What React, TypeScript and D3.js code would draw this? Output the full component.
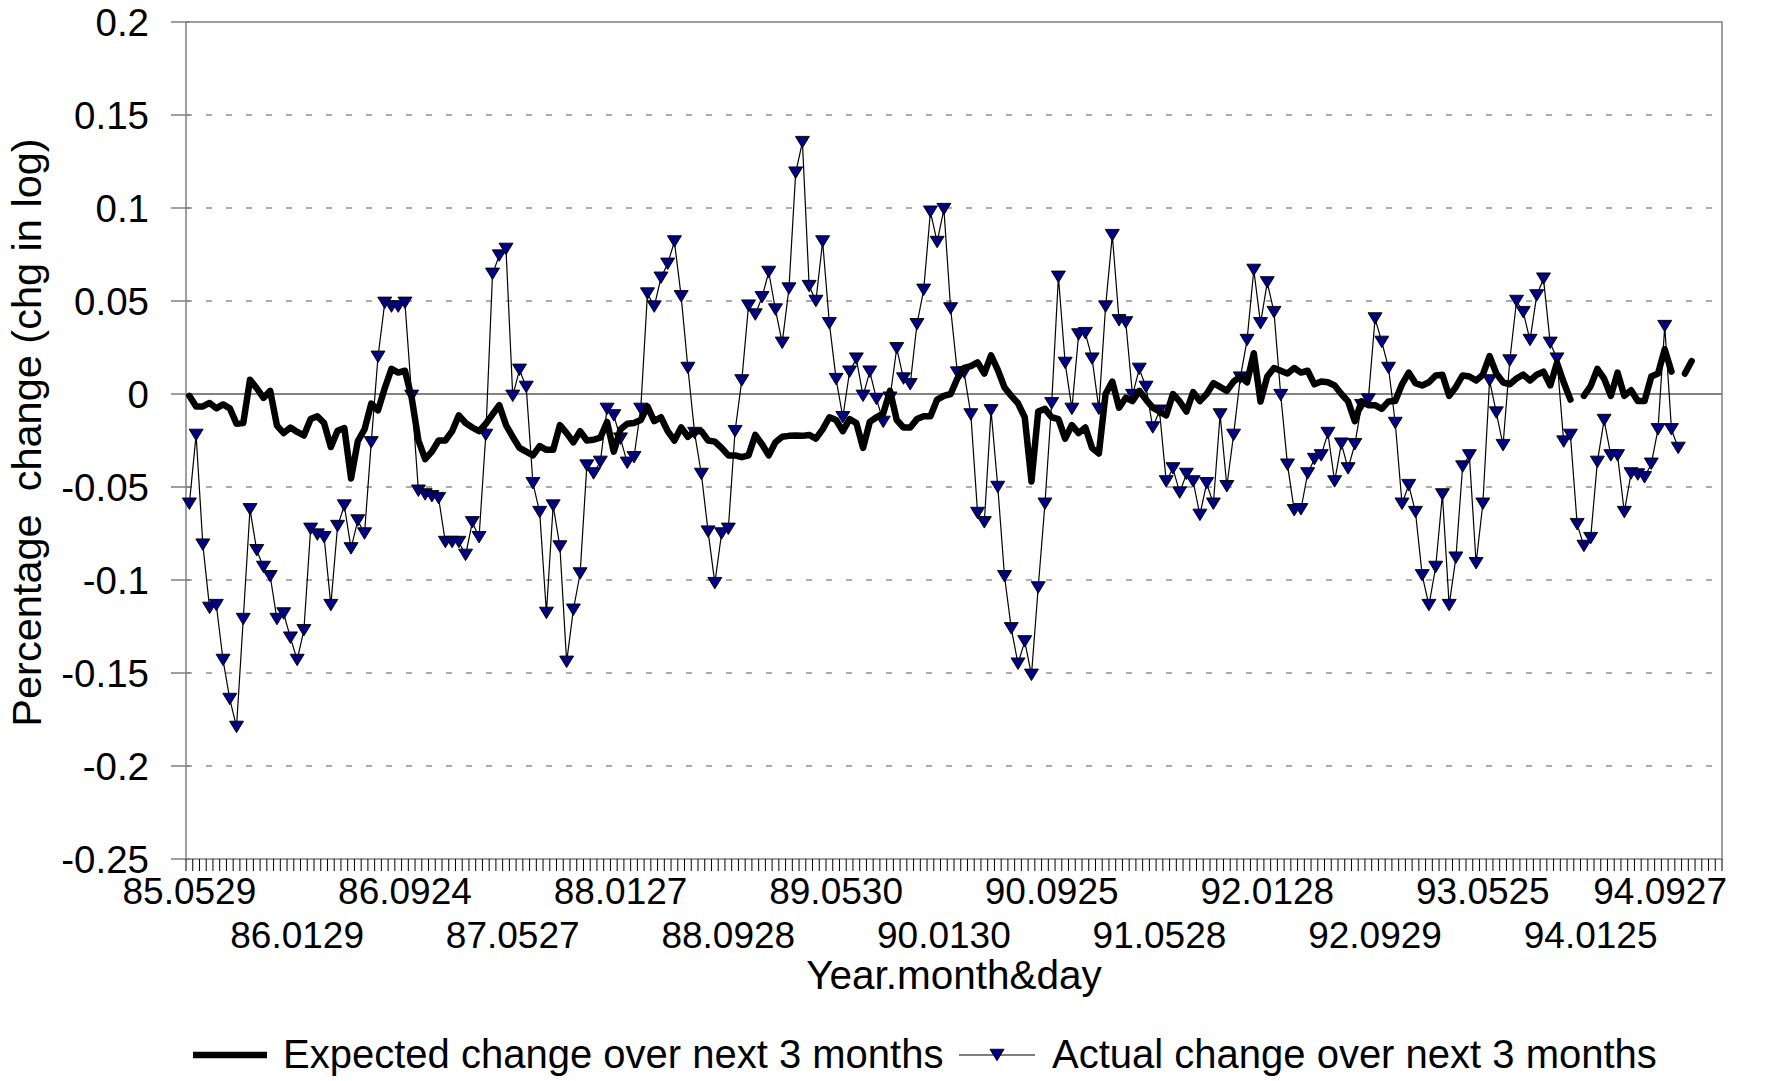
import React from 'react';
import * as d3 from 'd3';

const tickLabels = [
  '85.0529', '86.0129', '86.0924', '87.0527', '88.0127', '88.0928', '89.0530', '90.0130',
  '90.0925', '91.0528', '92.0128', '92.0929', '93.0525', '94.0125', '94.0927',
];
const LABEL_EVERY = 16;
const N_CATEGORIES = 228;

const yTicks = [0.2, 0.15, 0.1, 0.05, 0, -0.05, -0.1, -0.15, -0.2, -0.25];

const expected: (number | null)[] = [
  -0.001, -0.0067, -0.0067, -0.0048, -0.0077, -0.0056, -0.0077, -0.016, -0.0156, 0.0077,
  0.0031, -0.0021, 0.0017, -0.017, -0.021, -0.018, -0.0204, -0.0223, -0.0135, -0.012,
  -0.0156, -0.0285, -0.0198, -0.0183, -0.0454, -0.0254, -0.019, -0.0052, -0.0088, 0.0031,
  0.0135, 0.0115, 0.0125, -0.002, -0.025, -0.035, -0.031, -0.025, -0.025, -0.02,
  -0.0115, -0.0156, -0.018, -0.02, -0.016, -0.011, -0.006, -0.0167, -0.023, -0.029,
  -0.031, -0.033, -0.028, -0.03, -0.03, -0.0167, -0.021, -0.026, -0.02, -0.025,
  -0.0246, -0.0235, -0.015, -0.031, -0.019, -0.016, -0.0156, -0.014, -0.0067, -0.0146,
  -0.0125, -0.02, -0.025, -0.018, -0.023, -0.02, -0.02, -0.025, -0.0256, -0.029,
  -0.033, -0.033, -0.034, -0.033, -0.022, -0.027, -0.033, -0.026, -0.023, -0.0225,
  -0.0223, -0.0225, -0.022, -0.024, -0.019, -0.0125, -0.014, -0.02, -0.0135, -0.0156,
  -0.029, -0.015, -0.0125, -0.0104, 0.0017, -0.014, -0.018, -0.018, -0.0135, -0.012,
  -0.012, -0.003, -0.001, 0.0, 0.0083, 0.014, 0.015, 0.017, 0.011, 0.0208,
  0.013, 0.0035, -0.001, -0.005, -0.0125, -0.047, -0.0094, -0.008, -0.0125, -0.0135,
  -0.024, -0.0167, -0.021, -0.018, -0.029, -0.032, 0.0, 0.0067, -0.0073, -0.002,
  -0.0038, 0.0017, -0.003, -0.0073, -0.0094, -0.0115, 0.0, -0.004, -0.0094, 0.001,
  -0.0038, 0.0, 0.0058, 0.0038, 0.0017, 0.0067, 0.0094, 0.0063, 0.0219, -0.004,
  0.0094, 0.014, 0.0125, 0.011, 0.014, 0.0115, 0.0125, 0.0052, 0.0067, 0.0063,
  0.0046, 0.0, -0.004, -0.0146, -0.004, -0.006, -0.006, -0.008, -0.004, -0.0038,
  0.0052, 0.0115, 0.0058, 0.0046, 0.0063, 0.01, 0.0104, -0.001, 0.0038, 0.01,
  0.0094, 0.0073, 0.0104, 0.0204, 0.011, 0.0063, 0.0052, 0.0083, 0.0104, 0.0073,
  0.0104, 0.012, 0.0046, 0.0167, 0.0063, -0.003, null, -0.001, 0.0042, 0.0135,
  0.0083, -0.001, 0.0115, -0.001, 0.002, -0.0038, -0.0038, 0.0094, 0.011, 0.024,
  0.012, null, 0.011, 0.0177,
];

const actual: number[] = [
  -0.059, -0.022, -0.081, -0.115, -0.1135, -0.143, -0.164, -0.179, -0.121, -0.062,
  -0.084, -0.093, -0.098, -0.121, -0.118, -0.131, -0.143, -0.127, -0.0725, -0.0756,
  -0.077, -0.1135, -0.071, -0.06, -0.083, -0.068, -0.075, -0.026, 0.02, 0.049,
  0.047, 0.047, 0.049, -0.001, -0.052, -0.054, -0.055, -0.056, -0.0796, -0.0796,
  -0.0796, -0.0865, -0.069, -0.077, -0.022, 0.0646, 0.0744, 0.078, -0.001, 0.013,
  0.0038, -0.048, -0.0635, -0.1177, -0.06, -0.082, -0.144, -0.116, -0.0965, -0.0385,
  -0.0427, -0.0365, -0.008, -0.0115, -0.024, -0.037, -0.034, -0.008, 0.054, 0.047,
  0.0625, 0.07, 0.082, 0.0525, 0.014, -0.021, -0.043, -0.074, -0.1017, -0.075,
  -0.0725, -0.02, 0.0073, 0.0475, 0.0427, 0.052, 0.0656, 0.0454, 0.0275, 0.0567,
  0.119, 0.1354, 0.058, 0.05, 0.082, 0.038, 0.008, -0.0125, 0.012, 0.019,
  -0.001, 0.012, -0.0027, -0.015, -0.002, 0.0246, 0.0083, 0.0052, 0.0375, 0.056,
  0.098, 0.0817, 0.0994, 0.046, 0.0115, 0.0115, -0.011, -0.064, -0.069, -0.0088,
  -0.05, -0.098, -0.126, -0.145, -0.133, -0.151, -0.104, -0.059, -0.005, 0.063,
  0.0167, -0.008, 0.032, 0.0327, 0.019, -0.008, 0.047, 0.0854, 0.0396, 0.0385,
  -0.0006, 0.0135, 0.0038, -0.018, -0.009, -0.047, -0.04, -0.053, -0.043, -0.047,
  -0.065, -0.048, -0.059, -0.011, -0.0496, -0.022, 0.0088, 0.029, 0.0667, 0.038,
  0.06, 0.044, -0.0006, -0.038, -0.0625, -0.062, -0.0427, -0.035, -0.033, -0.021,
  -0.047, -0.0267, -0.04, -0.027, -0.006, -0.003, 0.0406, 0.028, 0.014, -0.0156,
  -0.059, -0.049, -0.0635, -0.0975, -0.1135, -0.093, -0.054, -0.1135, -0.088, -0.039,
  -0.033, -0.091, -0.059, 0.0073, -0.01, -0.0275, 0.018, 0.05, 0.044, 0.029,
  0.053, 0.062, 0.0275, 0.019, -0.0256, -0.022, -0.07, -0.0817, -0.0775, -0.0365,
  -0.014, -0.033, -0.033, -0.0635, -0.0427, -0.0433, -0.0448, -0.0375, -0.019, 0.0365,
  -0.019, -0.029,
];

const FONT = "'Liberation Sans', Arial, Helvetica, sans-serif";

export default function App() {
  const W = 1784;
  const H = 1081;
  const margin = { left: 186, right: 62, top: 22, bottom: 222 };
  const x0 = margin.left;
  const x1 = W - margin.right;
  const yTop = margin.top;
  const yBot = H - margin.bottom;

  const x = d3
    .scaleBand<number>()
    .domain(d3.range(N_CATEGORIES))
    .range([x0, x1])
    .padding(0);
  const cx = (i: number) => (x(i) as number) + x.bandwidth() / 2;
  const y = d3.scaleLinear().domain([-0.25, 0.2]).range([yBot, yTop]);

  const expLine = d3
    .line<number | null>()
    .defined((d) => d != null)
    .x((_, i) => cx(i))
    .y((d) => y(d as number))
    .curve(d3.curveLinear);
  const actLine = d3
    .line<number>()
    .x((_, i) => cx(i))
    .y((d) => y(d));

  const tri = (px: number, py: number, w = 14, h = 11.5) =>
    `M${px - w / 2},${py - h / 2}L${px + w / 2},${py - h / 2}L${px},${py + h / 2}Z`;

  const fmt = (v: number) => String(+v.toFixed(2));
  const labelFont = 37;
  const maxRight = 1727;

  return (
    <svg
      width={W}
      height={H}
      style={{ position: 'absolute', left: 0, top: 0, background: '#fff' }}
      fontFamily={FONT}
    >
      <rect x={0} y={0} width={W} height={H} fill="#fff" />
      {/* gridlines */}
      {yTicks
        .filter((t) => t !== 0.2 && t !== -0.25 && t !== 0)
        .map((t) => (
          <line
            key={'g' + t}
            x1={x0}
            x2={x1}
            y1={y(t)}
            y2={y(t)}
            stroke="#5a5a5a"
            strokeWidth={1.2}
            strokeDasharray="6,14"
          />
        ))}
      {/* zero line */}
      <line x1={x0} x2={x1} y1={y(0)} y2={y(0)} stroke="#5a5a5a" strokeWidth={1.3} />
      {/* plot border */}
      <rect x={x0} y={yTop} width={x1 - x0} height={yBot - yTop} fill="none" stroke="#808080" strokeWidth={1.5} />

      {/* y ticks & labels */}
      {yTicks.map((t) => (
        <g key={'y' + t}>
          <line x1={x0 - 15} x2={x0 + 4} y1={y(t)} y2={y(t)} stroke="#808080" strokeWidth={1.5} />
          <text
            x={x0 - 37}
            y={y(t)}
            dy="0.36em"
            textAnchor="end"
            fontSize={38.5}
            fill="#000"
          >
            {fmt(t)}
          </text>
        </g>
      ))}

      {/* x ticks */}
      {d3.range(N_CATEGORIES + 1).map((k) => {
        const xx = x0 + k * x.bandwidth();
        return <line key={'xt' + k} x1={xx} x2={xx} y1={yBot} y2={yBot + 12} stroke="#000" strokeWidth={1} />;
      })}
      {/* x labels */}
      {tickLabels.map((lab, j) => {
        const i = j * LABEL_EVERY;
        const half = 67;
        let xx = cx(i);
        let anchor: 'middle' | 'end' = 'middle';
        if (xx + half > maxRight) {
          xx = maxRight;
          anchor = 'end';
        }
        const row = j % 2;
        return (
          <text
            key={'xl' + j}
            x={xx}
            y={row === 0 ? 904 : 948}
            textAnchor={anchor}
            fontSize={labelFont}
            fill="#000"
          >
            {lab}
          </text>
        );
      })}

      {/* actual series */}
      <path d={actLine(actual) || ''} fill="none" stroke="#000" strokeWidth={1.2} />
      {actual.map((v, i) => (
        <path key={'m' + i} d={tri(cx(i), y(v))} fill="#000080" stroke="#000" strokeWidth={0.9} />
      ))}

      {/* expected series */}
      <path
        d={expLine(expected) || ''}
        fill="none"
        stroke="#000"
        strokeWidth={6.5}
        strokeLinejoin="round"
        strokeLinecap="round"
      />

      {/* axis titles */}
      <text x={(x0 + x1) / 2} y={989} textAnchor="middle" fontSize={40.5} fill="#000">
        Year.month&amp;day
      </text>
      <text
        transform={`translate(41, ${(yTop + yBot) / 2 - 8}) rotate(-90)`}
        textAnchor="middle"
        fontSize={41.5}
        fill="#000"
        style={{ whiteSpace: 'pre' }}
      >
        {'Percentage  change (chg in log)'}
      </text>

      {/* legend */}
      <g>
        <line x1={193} x2={267} y1={1055} y2={1055} stroke="#000" strokeWidth={6.5} />
        <text x={283} y={1068} fontSize={40} fill="#000">
          Expected change over next 3 months
        </text>
        <line x1={959} x2={1035} y1={1055} y2={1055} stroke="#000" strokeWidth={1.2} />
        <path d={tri(997, 1055)} fill="#000080" stroke="#000" strokeWidth={0.9} />
        <text x={1052} y={1068} fontSize={40} fill="#000">
          Actual change over next 3 months
        </text>
      </g>
    </svg>
  );
}
